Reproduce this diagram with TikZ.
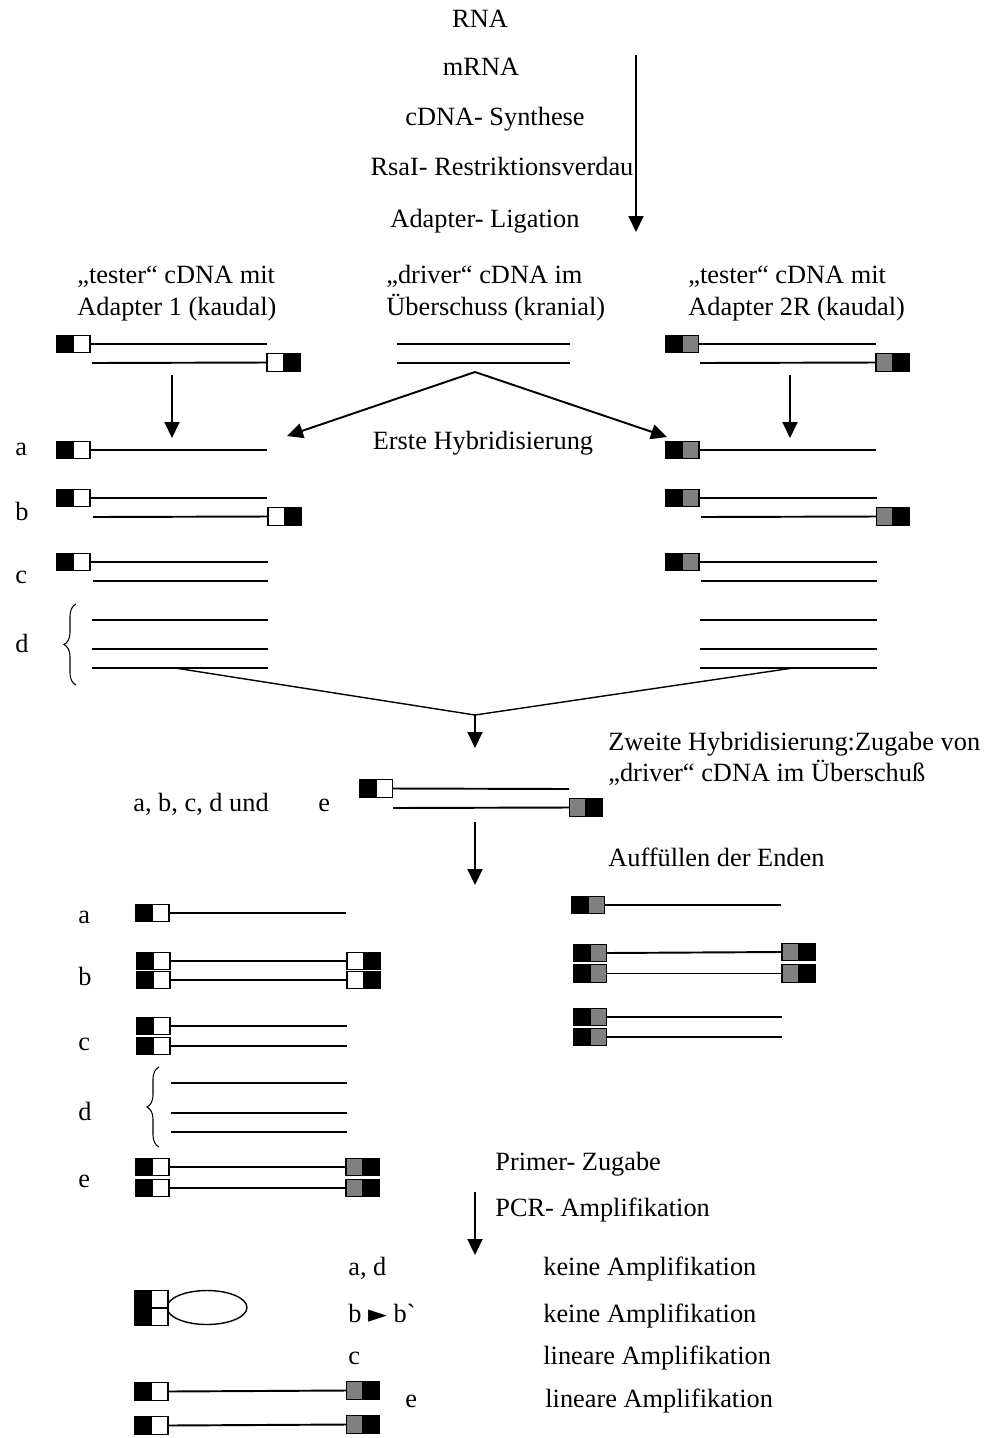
\documentclass[tikz,border=0pt]{standalone}
\usepackage{fontspec}
\setmainfont{Liberation Serif}[Ligatures=TeXOff]
\newfontfamily\symfont{DejaVu Sans}
\usepackage{xcolor}
\usetikzlibrary{arrows.meta,decorations.pathreplacing}

\definecolor{adgray}{gray}{0.5}

% adapter = two half boxes meeting at the given point
\newcommand{\adapter}[4]{%
  \node [half, fill=#3, anchor=east] (#1l) at (#2) {};
  \node [half, fill=#4, anchor=west] (#1r) at (#2) {};
}

\begin{document}
\begin{tikzpicture}[
    x=0.02cm, y=-0.02cm,
    half/.style={rectangle, draw=black, line width=0.8pt, minimum width=0.33cm, minimum height=0.35cm, inner sep=0pt, outer sep=0pt},
    strand/.style={line width=1.1pt},
    arr/.style={-{Triangle[width=0.3cm,length=0.32cm]}, line width=1.1pt},
    txt/.style={inner sep=0pt, anchor=base west, font=\fontsize{15}{18}\selectfont},
    ctxt/.style={txt, anchor=base},
    brc/.style={decorate, decoration={brace, amplitude=0.24cm}, line width=0.6pt}
]
    \useasboundingbox (0,0) rectangle (991,1438);

    % preparation
    \node [ctxt] (rna) at (480,27) {RNA};
    \node [ctxt] (mrna) at (481,75) {mRNA};
    \node [ctxt] (cdna) at (495,125) {cDNA- Synthese};
    \node [ctxt] (rsa) at (502,175) {RsaI- Restriktionsverdau};
    \node [ctxt] (lig) at (485,227) {Adapter- Ligation};
    \coordinate (prep1) at (636,55);
    \coordinate (prep2) at (636,232);
    \draw [arr] (prep1) -- (prep2);

    % starting populations
    \node [txt] (tes1a) at (77,283) {„tester“ cDNA mit};
    \node [txt] (tes1b) at (77,315) {Adapter 1 (kaudal)};
    \node [txt] (drva) at (386,283) {„driver“ cDNA im};
    \node [txt] (drvb) at (386,315) {Überschuss (kranial)};
    \node [txt] (tes2a) at (688,283) {„tester“ cDNA mit};
    \node [txt] (tes2b) at (688,315) {Adapter 2R (kaudal)};

    \adapter{tA}{73.5,344}{black}{white}
    \adapter{tB}{283.5,362.5}{white}{black}
    \draw [strand] (tAr.east) -- (267,344);
    \draw [strand] (92,363) -- (tBl.west);

    \draw [strand] (397,344) -- (570,344);
    \draw [strand] (397,363) -- (570,363);

    \adapter{uA}{682,344}{black}{adgray}
    \adapter{uB}{892.5,362.5}{adgray}{black}
    \draw [strand] (uAr.east) -- (876,344);
    \draw [strand] (700,363) -- (uBl.west);

    % first hybridisation
    \coordinate (apex) at (475,372);
    \coordinate (hybL) at (287,436);
    \coordinate (hybR) at (667,437);
    \draw [arr] (apex) -- (hybL);
    \draw [arr] (apex) -- (hybR);
    \draw [arr] (172,375) -- (172,438);
    \draw [arr] (790,375) -- (790,438);
    \node [ctxt] (hyb1) at (483,449) {Erste Hybridisierung};

    % left products
    \node [txt] (la) at (15,455) {a};
    \node [txt] (lb) at (15,520) {b};
    \node [txt] (lc) at (15,583) {c};
    \node [txt] (ld) at (15,652) {d};
    \adapter{La}{73.5,450}{black}{white}
    \draw [strand] (Lar.east) -- (267,450);
    \adapter{Lb}{73.5,498}{black}{white}
    \adapter{Lbb}{284.5,516.5}{white}{black}
    \draw [strand] (Lbr.east) -- (267,498);
    \draw [strand] (93,517) -- (Lbbl.west);
    \adapter{Lc}{73.5,562}{black}{white}
    \draw [strand] (Lcr.east) -- (268,562);
    \draw [strand] (93,581) -- (268,581);
    \draw [strand] (92,620) -- (268,620);
    \draw [strand] (92,649) -- (268,649);
    \draw [strand] (92,668) -- (268,668);
    \draw [brc] (76,685) -- (76,604);

    % right products
    \adapter{Ra}{682.5,450}{black}{adgray}
    \draw [strand] (Rar.east) -- (876,450);
    \adapter{Rb}{682.5,498}{black}{adgray}
    \adapter{Rbb}{893,516.5}{adgray}{black}
    \draw [strand] (Rbr.east) -- (877,498);
    \draw [strand] (701,517) -- (Rbbl.west);
    \adapter{Rc}{682.5,562}{black}{adgray}
    \draw [strand] (Rcr.east) -- (877,562);
    \draw [strand] (701,581) -- (877,581);
    \draw [strand] (700,620) -- (877,620);
    \draw [strand] (700,649) -- (877,649);
    \draw [strand] (700,668) -- (877,668);

    % second hybridisation
    \coordinate (convL) at (175,668);
    \coordinate (convR) at (793,668);
    \coordinate (conv) at (475,715);
    \draw [line width=0.8pt] (convL) -- (conv) -- (convR);
    \draw [arr] (conv) -- (475,748);
    \node [txt] (hyb2a) at (608,750) {Zweite Hybridisierung:Zugabe von};
    \node [txt] (hyb2b) at (608,781) {„driver“ cDNA im Überschuß};

    \node [txt] (abcd) at (133,811) {a, b, c, d und};
    \node [txt] (le) at (318,811) {e};
    \adapter{Ea}{376,788.5}{black}{white}
    \adapter{Eb}{586,807.5}{adgray}{black}
    \draw [strand] (Ear.east) -- (569,789);
    \draw [strand] (393,808) -- (Ebl.west);

    \draw [arr] (475,822) -- (475,885);
    \node [txt] (fill) at (608,866) {Auffüllen der Enden};

    % filled-in products, left
    \node [txt] (pa) at (78,923) {a};
    \node [txt] (pb) at (78,985) {b};
    \node [txt] (pc) at (78,1050) {c};
    \node [txt] (pd) at (78,1120) {d};
    \node [txt] (pe) at (78,1187) {e};

    \adapter{Pa}{152.5,913}{black}{white}
    \draw [strand] (Par.east) -- (346,913);

    \adapter{Pb1}{153.5,961}{black}{white}
    \adapter{Pb2}{153.5,980}{black}{white}
    \adapter{Pb3}{363.5,961}{white}{black}
    \adapter{Pb4}{363.5,980}{white}{black}
    \draw [strand] (Pb1r.east) -- (Pb3l.west);
    \draw [strand] (Pb2r.east) -- (Pb4l.west);

    \adapter{Pc1}{153.5,1026}{black}{white}
    \adapter{Pc2}{153.5,1046}{black}{white}
    \draw [strand] (Pc1r.east) -- (347,1026);
    \draw [strand] (Pc2r.east) -- (347,1046);

    \draw [strand] (171,1083) -- (347,1083);
    \draw [strand] (171,1113) -- (347,1113);
    \draw [strand] (171,1132) -- (347,1132);
    \draw [brc] (159,1147) -- (159,1067);

    \adapter{Pe1}{152.5,1167}{black}{white}
    \adapter{Pe2}{152.5,1188}{black}{white}
    \adapter{Pe3}{362.5,1167}{adgray}{black}
    \adapter{Pe4}{362.5,1188}{adgray}{black}
    \draw [strand] (Pe1r.east) -- (Pe3l.west);
    \draw [strand] (Pe2r.east) -- (Pe4l.west);

    % filled-in products, right
    \adapter{Qa}{588,905}{black}{adgray}
    \draw [strand] (Qar.east) -- (781,905);

    \adapter{Qb1}{590,953}{black}{adgray}
    \adapter{Qb2}{590,973.5}{black}{adgray}
    \adapter{Qb3}{798.5,952}{adgray}{black}
    \adapter{Qb4}{798.5,973.5}{adgray}{black}
    \draw [strand] (Qb1r.east) -- (Qb3l.west);
    \draw [strand] (Qb2r.east) -- (Qb4l.west);

    \adapter{Qc1}{590,1017}{black}{adgray}
    \adapter{Qc2}{590,1037}{black}{adgray}
    \draw [strand] (Qc1r.east) -- (782,1017);
    \draw [strand] (Qc2r.east) -- (782,1037);

    % PCR
    \node [txt] (primer) at (495,1170) {Primer- Zugabe};
    \node [txt] (pcr) at (495,1216) {PCR- Amplifikation};
    \draw [arr] (475,1192) -- (475,1255);

    \node [txt] (rad) at (348,1275) {a, d};
    \node [txt] (rb) at (348,1322) {b {\symfont\fontsize{14}{16}\selectfont ►} b`};
    \node [txt] (rc) at (348,1364) {c};
    \node [txt] (re) at (405,1407) {e};
    \node [txt] (ka) at (543,1275) {keine Amplifikation};
    \node [txt] (kb) at (543,1322) {keine Amplifikation};
    \node [txt] (lic) at (543,1364) {lineare Amplifikation};
    \node [txt] (lie) at (545,1407) {lineare Amplifikation};

    \draw [line width=0.8pt] (207,1307.5) ellipse [x radius=0.8cm, y radius=0.34cm];
    \adapter{F1}{151.5,1299}{black}{white}
    \adapter{F2}{151.5,1317}{black}{white}

    \adapter{Fe1}{151.5,1391.5}{black}{white}
    \adapter{Fe2}{363,1390.5}{adgray}{black}
    \draw [strand] (Fe1r.east) -- (Fe2l.west);
    \adapter{Fe3}{151.5,1425.5}{black}{white}
    \adapter{Fe4}{363,1424.5}{adgray}{black}
    \draw [strand] (Fe3r.east) -- (Fe4l.west);
\end{tikzpicture}
\end{document}
